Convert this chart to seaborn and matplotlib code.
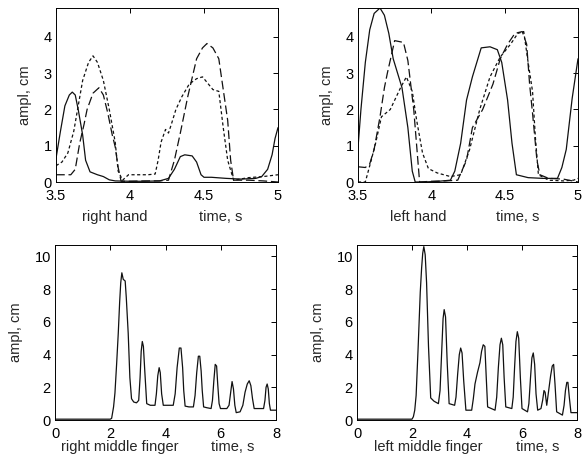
import numpy as np
import matplotlib
matplotlib.use("Agg")
import matplotlib.pyplot as plt
import seaborn as sns

# ---- right hand (3 markers), time 3.5..5 s
rh_solid_t = [3.50, 3.53, 3.56, 3.59, 3.61, 3.63, 3.65, 3.68, 3.70, 3.73, 3.78,
              3.82, 3.86, 3.90, 4.00, 4.10, 4.20, 4.26, 4.30, 4.34, 4.37, 4.42,
              4.45, 4.48, 4.50, 4.55, 4.65, 4.75, 4.85, 4.89, 4.93, 4.96, 4.98, 5.00]
rh_solid_a = [0.65, 1.40, 2.10, 2.40, 2.48, 2.40, 2.00, 1.30, 0.60, 0.28, 0.20,
              0.15, 0.06, 0.03, 0.02, 0.02, 0.03, 0.10, 0.35, 0.70, 0.75, 0.72,
              0.55, 0.20, 0.13, 0.13, 0.10, 0.08, 0.10, 0.15, 0.35, 0.75, 1.20, 1.50]
rh_long_t = [3.50, 3.55, 3.60, 3.63, 3.66, 3.69, 3.71, 3.75, 3.79, 3.82, 3.85,
             3.88, 3.90, 3.92, 3.94, 4.00, 4.10, 4.20, 4.26, 4.30, 4.34, 4.39,
             4.45, 4.49, 4.52, 4.56, 4.60, 4.63, 4.66, 4.68, 4.70, 4.80, 4.90, 5.00]
rh_long_a = [0.20, 0.20, 0.20, 0.35, 1.07, 1.60, 2.00, 2.45, 2.60, 2.40, 1.90,
             1.30, 0.97, 0.40, 0.02, 0.02, 0.03, 0.03, 0.05, 0.60, 1.35, 2.35,
             3.40, 3.70, 3.82, 3.70, 3.40, 2.55, 1.70, 0.60, 0.05, 0.05, 0.03, 0.00]
rh_short_t = [3.50, 3.54, 3.58, 3.62, 3.65, 3.68, 3.72, 3.75, 3.78, 3.82, 3.86,
              3.90, 3.92, 3.95, 3.99, 4.05, 4.12, 4.17, 4.19, 4.21, 4.24, 4.26,
              4.28, 4.31, 4.35, 4.40, 4.45, 4.49, 4.52, 4.56, 4.60, 4.63, 4.66,
              4.70, 4.80, 4.90, 5.00]
rh_short_a = [0.45, 0.55, 0.80, 1.40, 2.10, 2.80, 3.30, 3.48, 3.30, 2.80, 2.00,
              1.10, 0.30, 0.05, 0.20, 0.20, 0.20, 0.22, 0.60, 1.10, 1.45, 1.35,
              1.60, 2.00, 2.35, 2.70, 2.85, 2.90, 2.75, 2.55, 2.50, 1.50, 0.60,
              0.05, 0.12, 0.15, 0.20]

# ---- left hand
lh_solid_t = [3.50, 3.52, 3.55, 3.58, 3.61, 3.65, 3.68, 3.71, 3.74, 3.77, 3.80,
              3.84, 3.87, 3.89, 3.95, 4.05, 4.13, 4.16, 4.20, 4.24, 4.28, 4.34,
              4.40, 4.45, 4.48, 4.52, 4.55, 4.58, 4.66, 4.76, 4.86, 4.89, 4.92,
              4.96, 5.00]
lh_solid_a = [0.95, 2.00, 3.30, 4.20, 4.65, 4.80, 4.60, 4.10, 3.40, 3.00, 2.60,
              1.50, 0.30, 0.00, 0.00, 0.02, 0.05, 0.30, 1.07, 2.26, 2.90, 3.70,
              3.73, 3.65, 3.30, 2.26, 1.07, 0.20, 0.12, 0.10, 0.10, 0.40, 0.90,
              2.30, 3.40]
lh_long_t = [3.50, 3.55, 3.58, 3.61, 3.65, 3.68, 3.70, 3.75, 3.81, 3.84, 3.88,
             3.90, 3.92, 4.00, 4.10, 4.18, 4.24, 4.28, 4.35, 4.42, 4.47, 4.52,
             4.57, 4.62, 4.65, 4.67, 4.69, 4.72, 4.74, 4.80, 4.90, 5.00]
lh_long_a = [0.42, 0.40, 0.50, 0.90, 1.80, 2.60, 3.00, 3.90, 3.85, 3.35, 2.00,
             1.00, 0.00, 0.02, 0.03, 0.05, 0.60, 1.50, 2.00, 2.70, 3.40, 3.80,
             4.10, 4.15, 3.80, 2.70, 1.90, 0.60, 0.20, 0.10, 0.08, 0.00]
lh_short_t = [3.50, 3.55, 3.59, 3.62, 3.66, 3.72, 3.79, 3.83, 3.87, 3.90, 3.94,
              3.98, 4.04, 4.13, 4.20, 4.26, 4.33, 4.40, 4.47, 4.54, 4.59, 4.63,
              4.66, 4.69, 4.71, 4.73, 4.80, 4.90, 4.97, 5.00]
lh_short_a = [0.00, 0.00, 0.60, 1.07, 1.80, 2.00, 2.60, 2.90, 2.50, 1.70, 0.80,
              0.37, 0.25, 0.15, 0.20, 0.88, 2.00, 2.90, 3.45, 3.80, 4.10, 4.15,
              3.30, 2.50, 1.20, 0.20, 0.05, 0.03, 0.05, 0.10]

# ---- middle fingers, time 0..8 s
rf_t = [0.00, 2.00, 2.05, 2.12, 2.17, 2.23, 2.29, 2.34, 2.38, 2.42, 2.47, 2.54,
        2.58, 2.65, 2.71, 2.77, 2.85, 2.95, 3.03, 3.08, 3.12, 3.16, 3.20, 3.25,
        3.32, 3.45, 3.62, 3.67, 3.72, 3.77, 3.81, 3.86, 3.92, 4.10, 4.28, 4.35,
        4.42, 4.50, 4.56, 4.62, 4.66, 4.71, 4.85, 5.01, 5.07, 5.13, 5.19, 5.24,
        5.29, 5.33, 5.38, 5.50, 5.65, 5.70, 5.75, 5.80, 5.85, 5.89, 5.94, 5.99,
        6.10, 6.22, 6.30, 6.36, 6.41, 6.46, 6.51, 6.56, 6.70, 6.80, 6.88, 6.96,
        7.03, 7.09, 7.15, 7.21, 7.40, 7.55, 7.60, 7.64, 7.68, 7.72, 7.76, 7.80,
        8.00]
rf_a = [0.05, 0.05, 0.10, 0.80, 1.65, 3.40, 5.30, 7.20, 8.40, 9.00, 8.60, 8.50,
        7.50, 5.30, 2.60, 1.30, 1.10, 1.05, 1.20, 2.60, 4.20, 4.80, 4.50, 3.00,
        1.00, 0.90, 0.90, 1.60, 2.70, 3.20, 2.90, 1.60, 0.90, 0.90, 0.90, 1.60,
        3.20, 4.40, 4.40, 3.20, 1.80, 0.85, 0.80, 0.80, 1.50, 2.90, 3.90, 3.90,
        3.00, 1.80, 0.80, 0.75, 0.70, 1.20, 2.40, 3.40, 3.30, 2.20, 1.00, 0.70,
        0.70, 0.70, 0.90, 1.70, 2.35, 1.90, 0.90, 0.45, 0.50, 0.90, 1.70, 2.20,
        2.40, 2.10, 1.30, 0.70, 0.70, 0.70, 1.20, 2.00, 2.20, 1.90, 1.00, 0.60,
        0.60]
lf_t = [0.00, 2.00, 2.05, 2.10, 2.15, 2.22, 2.30, 2.35, 2.39, 2.43, 2.48, 2.53,
        2.60, 2.68, 2.80, 2.96, 3.02, 3.08, 3.13, 3.17, 3.22, 3.28, 3.35, 3.45,
        3.55, 3.60, 3.66, 3.72, 3.77, 3.82, 3.88, 3.96, 4.17, 4.23, 4.29, 4.38,
        4.47, 4.53, 4.59, 4.65, 4.70, 4.75, 5.02, 5.08, 5.14, 5.20, 5.25, 5.30,
        5.35, 5.41, 5.63, 5.68, 5.73, 5.78, 5.83, 5.88, 5.94, 6.00, 6.20, 6.25,
        6.31, 6.36, 6.41, 6.46, 6.51, 6.57, 6.69, 6.75, 6.80, 6.84, 6.90, 6.97,
        7.04, 7.10, 7.15, 7.20, 7.26, 7.47, 7.53, 7.58, 7.63, 7.67, 7.72, 7.78,
        8.00]
lf_a = [0.05, 0.05, 0.20, 0.60, 1.50, 4.30, 7.80, 9.30, 10.20, 10.60, 10.10, 8.40,
        4.50, 1.35, 1.15, 1.00, 1.80, 4.20, 6.20, 6.75, 6.30, 3.50, 1.00, 0.95,
        0.90, 1.40, 2.80, 4.00, 4.40, 4.10, 2.40, 0.60, 0.60, 1.30, 2.20, 2.90,
        3.50, 4.20, 4.60, 4.50, 2.60, 0.80, 0.60, 1.40, 3.20, 4.60, 5.00, 4.60,
        2.60, 0.80, 0.70, 1.40, 3.20, 4.80, 5.40, 5.00, 2.60, 0.70, 0.50, 1.00,
        2.60, 3.80, 4.10, 3.40, 1.60, 0.60, 0.70, 1.20, 1.80, 1.70, 0.90, 1.80,
        2.70, 3.30, 3.40, 2.20, 0.50, 0.30, 0.90, 1.80, 2.30, 2.30, 1.40, 0.45,
        0.45]

SOLID = "-"
LONG = (0, (7, 3))
SHORT = (0, (2.5, 2))

sns.set_style("white")
plt.rcParams["font.family"] = ["Liberation Sans", "DejaVu Sans"]
plt.rcParams["font.size"] = 10

fig = plt.figure(figsize=(5.86, 4.65), dpi=100)
W, H = 586, 465


def make_axes(x0, y_top, x1, y_bot):
    return fig.add_axes([x0 / W, 1 - y_bot / H, (x1 - x0) / W, (y_bot - y_top) / H])


def style_axes(ax, xlim, ylim, xticks, yticks, xticklabels):
    ax.set_xlim(*xlim)
    ax.set_ylim(*ylim)
    ax.set_xticks(xticks)
    ax.set_xticklabels(xticklabels)
    ax.set_yticks(yticks)
    ax.tick_params(direction="in", top=True, right=True, length=3.5,
                   width=0.7, labelsize=10.5, colors="black")
    ax.tick_params(axis="x", pad=5)
    ax.tick_params(axis="y", pad=3)
    for sp in ax.spines.values():
        sp.set_visible(True)
        sp.set_color("black")
        sp.set_linewidth(0.7)
    ax.set_ylabel("ampl, cm", fontsize=10.5, labelpad=8)
    ax.set_xlabel("")


def draw(ax, t, a, ls):
    sns.lineplot(x=t, y=a, ax=ax, color="#111111", linewidth=0.9,
                 linestyle=ls, sort=False, estimator=None)


ax_tl = make_axes(56, 8, 278, 182)
ax_tr = make_axes(358, 8, 578, 182)
ax_bl = make_axes(55, 245, 276, 420)
ax_br = make_axes(357, 245, 577, 420)

draw(ax_tl, rh_solid_t, rh_solid_a, SOLID)
draw(ax_tl, rh_long_t, rh_long_a, LONG)
draw(ax_tl, rh_short_t, rh_short_a, SHORT)
draw(ax_tr, lh_solid_t, lh_solid_a, SOLID)
draw(ax_tr, lh_long_t, lh_long_a, LONG)
draw(ax_tr, lh_short_t, lh_short_a, SHORT)
draw(ax_bl, rf_t, rf_a, SOLID)
draw(ax_br, lf_t, lf_a, SOLID)

for ax in (ax_tl, ax_tr):
    style_axes(ax, (3.5, 5), (0, 4.8), [3.5, 4, 4.5, 5], [0, 1, 2, 3, 4],
               ["3.5", "4", "4.5", "5"])
for ax in (ax_bl, ax_br):
    style_axes(ax, (0, 8), (0, 10.7), [0, 2, 4, 6, 8], [0, 2, 4, 6, 8, 10],
               ["0", "2", "4", "6", "8"])

# bottom captions, two pieces each like in the original
captions = [
    (ax_tl, -0.20, [(0.266, "right hand"), (0.74, "time, s")]),
    (ax_tr, -0.20, [(0.273, "left hand"), (0.727, "time, s")]),
    (ax_bl, -0.155, [(0.294, "right middle finger"), (0.805, "time, s")]),
    (ax_br, -0.155, [(0.323, "left middle finger"), (0.823, "time, s")]),
]
for ax, yy, items in captions:
    for xx, txt in items:
        ax.text(xx, yy, txt, transform=ax.transAxes, ha="center", va="center",
                fontsize=10.5)

fig.savefig("out.png", dpi=100)
